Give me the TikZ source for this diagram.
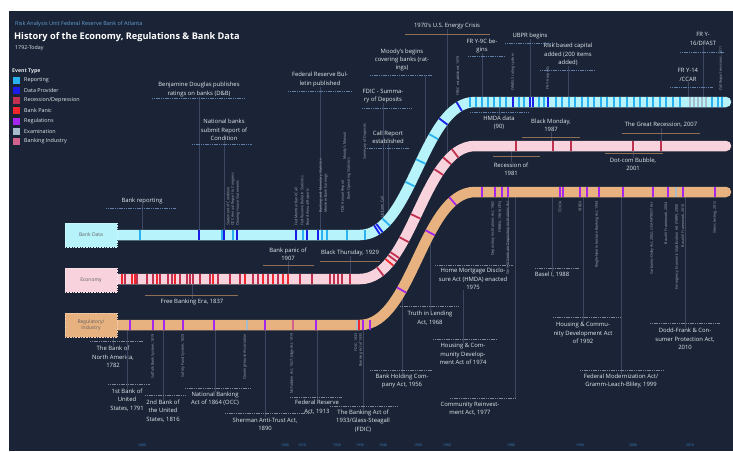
\documentclass[tikz,border=0pt]{standalone}
\usepackage{fontspec}
\setmainfont{Open Sans}
\usetikzlibrary{decorations.markings}

\definecolor{bg}{HTML}{1A2436}
\definecolor{txt}{HTML}{E4E8EE}
\definecolor{dimtxt}{HTML}{A3AEBE}
\definecolor{bandcyan}{HTML}{B6F3FA}
\definecolor{bandpink}{HTML}{F8D2DD}
\definecolor{bandtan}{HTML}{E7B27F}
\definecolor{rpt}{HTML}{2AB2F0}
\definecolor{dat}{HTML}{1C1CE8}
\definecolor{rec}{HTML}{C0304F}
\definecolor{bpn}{HTML}{F0282D}
\definecolor{reg}{HTML}{A524EE}
\definecolor{exm}{HTML}{A6BCCB}
\definecolor{bki}{HTML}{D2638E}
\definecolor{dataln}{HTML}{5F7FA8}
\definecolor{econln}{HTML}{8E6F55}
\definecolor{regln}{HTML}{7D8696}
\definecolor{leadln}{HTML}{3B4760}
\definecolor{axis}{HTML}{3D86C8}

\tikzset{
  lbl/.style={text=txt, font=\fontsize{5.9}{8.4}\selectfont, align=center, inner sep=0pt},
  vlbl/.style={text=dimtxt, font=\fontsize{3.6}{4.8}\selectfont, rotate=90, inner sep=0pt, align=left},
  datarule/.style={draw=dataln, line width=0.8pt, dash pattern=on 1.2pt off 0.6pt},
  econrule/.style={draw=econln, line width=0.8pt},
  regrule/.style={draw=regln, line width=0.8pt, dash pattern=on 1.2pt off 0.6pt},
  lead/.style={draw=leadln, line width=0.4pt},
  band/.style={draw=#1, line width=10.5pt, line cap=round},
  bandbox/.style={fill=#1, draw=#1!60!white, densely dotted, line width=0.6pt,
    minimum width=52pt, minimum height=24pt, inner sep=1pt,
    text=black!62, font=\fontsize{5}{6.2}\selectfont, align=center},
  legtxt/.style={anchor=west, text=txt, font=\fontsize{5.4}{6}\selectfont, inner sep=0pt},
  yr/.style={text=axis, font=\fontsize{3.4}{4}\selectfont, inner sep=0pt},
}
\newcommand\tk[1]{\fill[#1] (-0.9pt,-5.25pt) rectangle (0.9pt,5.25pt);}

\begin{document}
\begin{tikzpicture}[x=1pt,y=-1pt]
\useasboundingbox (0,0) rectangle (733,451);
\fill[white] (0,0) rectangle (733,451);
\fill[bg] (9,11) rectangle (733,451);

% band rows
\coordinate (cyanlo) at (0,235);
\coordinate (cyanhi) at (0,102);
\coordinate (pinklo) at (0,279);
\coordinate (pinkhi) at (0,146);
\coordinate (tanlo) at (0,325);
\coordinate (tanhi) at (0,192);

% title and legend
\node[anchor=west, text=axis!80!white, font=\fontsize{5.5}{6}\selectfont, inner sep=0pt] (src) at (15,24) {Risk Analysis Unit Federal Reserve Bank of Atlanta};
\node[anchor=west, text=white, font=\bfseries\fontsize{9.2}{10}\selectfont, inner sep=0pt] (title) at (14,37) {History of the Economy, Regulations \& Bank Data};
\node[anchor=west, text=txt, font=\fontsize{5.3}{6}\selectfont, inner sep=0pt] (sub) at (15,48) {1792-Today};
\node[legtxt, font=\bfseries\fontsize{5.2}{6}\selectfont] (evt) at (12,71) {Event Type};
\foreach \col/\lab [count=\i] in {rpt/Reporting, dat/Data Provider, rec/Recession\slash Depression,
    bpn/Bank Panic, reg/Regulations, exm/Examination, bki/Banking Industry} {
  \fill[\col] (13,70+\i*10.2-3.5) rectangle ++(7,7);
  \node[legtxt] at (24,70+\i*10.2) {\lab};
}

% labels above and below the bands
\node[lbl] (rptg) at (142,201) {Bank reporting};
\node[lbl] (dnb) at (199,89.5) {Benjamine Douglas publishes\\ratings on banks (D\&B)};
\node[lbl] (cond) at (224,130) {National banks\\submit Report of\\Condition};
\node[lbl] (frb) at (320,79.5) {Federal Reserve Bul-\\letin published};
\node[lbl] (moody) at (402,60) {Moody's begins\\covering banks (rat-\\ings)};
\node[lbl] (sod) at (383,96) {FDIC - Summa-\\ry of Deposits};
\node[lbl] (call) at (388,137) {Call Report\\established};
\node[lbl] (frynine) at (482,46) {FR Y-9C be-\\gins};
\node[lbl] (ubpr) at (530,36) {UBPR begins};
\node[lbl] (rbc) at (568,54.5) {Risk based capital\\added (200 items\\added)};
\node[lbl] (dfast) at (703,39) {FR Y-\\16/DFAST};
\node[lbl] (ccar) at (688,75) {FR Y-14\\/CCAR};
\node[lbl] (hmda) at (499,122.5) {HMDA data\\(90)};

\node[lbl] (energy) at (447,26) {1970's U.S. Energy Crisis};
\node[lbl] (bmon) at (551,125.5) {Black Monday,\\1987};
\node[lbl] (grec) at (661,125) {The Great Recession, 2007};
\node[lbl] (recone) at (511,169) {Recession of\\1981};
\node[lbl] (dotcom) at (633,164.5) {Dot-com Bubble,\\2001};
\node[lbl] (panic) at (288,254) {Bank panic of\\1907};
\node[lbl] (bthu) at (350,253) {Black Thursday, 1929};
\node[lbl] (free) at (192,302) {Free Banking Era, 1837};

\node[lbl] (bna) at (113,357) {The Bank of\\North America,\\1782};
\node[lbl] (bkone) at (127,400) {1st Bank of\\United\\States, 1791};
\node[lbl] (bktwo) at (163,411) {2nd Bank of\\the United\\States, 1816};
\node[lbl] (nba) at (215,399) {National Banking\\Act of 1864 (OCC)};
\node[lbl] (sher) at (265,424) {Sherman Anti-Trust Act,\\1890};
\node[lbl] (fra) at (317,407) {Federal Reserve\\Act, 1913};
\node[lbl] (glass) at (363,421) {The Banking Act of\\1933/Glass-Steagall\\(FDIC)};
\node[lbl] (bhc) at (402,381) {Bank Holding Com-\\pany Act, 1956};
\node[lbl] (tila) at (430,318) {Truth in Lending\\Act, 1968};
\node[lbl] (hcdsf) at (463,354) {Housing \& Com-\\munity Develop-\\ment Act of 1974};
\node[lbl] (cra) at (470,409) {Community Reinvest-\\ment Act, 1977};
\node[lbl] (hmdact) at (473,279) {Home Mortgage Disclo-\\sure Act (HMDA) enacted\\1975};
\node[lbl] (basel) at (552,275) {Basel I, 1988};
\node[lbl] (hcdnt) at (583,333) {Housing \& Commu-\\nity Development Act\\of 1992};
\node[lbl] (glb) at (621,381) {Federal Modernization Act/\\Gramm-Leach-Bliley, 1999};
\node[lbl] (dfa) at (685,339) {Dodd-Frank \& Con-\\sumer Protection Act,\\2010};

% leaders (under the bands)
\foreach \n in {rptg,dnb,cond,frb} \draw[lead] (\n.south) -- (\n.south |- cyanlo);
\foreach \n in {frynine,ubpr,rbc,dfast,ccar} \draw[lead] (\n.south) -- (\n.south |- cyanhi);
\draw[lead] (hmda.north) -- (hmda.north |- cyanhi);
\draw[lead] (425,75) -- (425,152);
\draw[lead] (sod.south) -- (sod.south |- 0,221);
\draw[lead] (call.south) -- (call.south |- 0,215);
\draw[lead] (energy.south) -- (energy.south |- 0,166);
\foreach \n in {bmon,grec} \draw[lead] (\n.south) -- (\n.south |- pinkhi);
\foreach \n in {recone,dotcom} \draw[lead] (\n.north) -- (\n.north |- pinkhi);
\foreach \n in {panic,bthu} \draw[lead] (\n.south) -- (\n.south |- pinklo);
\draw[lead] (free.north) -- (free.north |- pinklo);
\foreach \n in {bna,bkone,bktwo,nba,sher,fra,glass} \draw[lead] (\n.north) -- (\n.north |- tanlo);
\foreach \n in {basel,hcdnt,glb,dfa} \draw[lead] (\n.north) -- (\n.north |- tanhi);
\draw[lead] (508,265) -- (508,192);
\draw[lead] (515,398) -- (515,192);
\draw[lead] (hcdsf.north) -- (hcdsf.north |- hmdact.south);
\draw[lead] (bhc.north) -- (bhc.north |- 0,290);
\draw[lead] (tila.north) -- (tila.north |- 0,238);

% rules
\draw[datarule] (106,208) -- (176,208);
\draw[datarule] (152,98) -- (245,98);
\draw[datarule] (192,144) -- (252,144);
\draw[datarule] (288,91) -- (352,91);
\draw[datarule] (370,75) -- (433,75);
\draw[datarule] (362,108) -- (412,108);
\draw[datarule] (365,148) -- (410,148);
\draw[datarule] (468,56) -- (505,56);
\draw[datarule] (505,43) -- (555,43);
\draw[datarule] (540,70) -- (595,70);
\draw[datarule] (680,52) -- (725,52);
\draw[datarule] (670,87) -- (713,87);
\draw[datarule] (470,112) -- (528,112);
\draw[econrule] (405,34) -- (490,34);
\draw[econrule] (522,137) -- (580,137);
\draw[econrule] (622,133) -- (700,133);
\draw[econrule] (493,156) -- (540,156);
\draw[econrule] (605,153) -- (663,153);
\draw[econrule] (263,265) -- (314,265);
\draw[econrule] (320,261) -- (380,261);
\draw[econrule] (145,295) -- (238,295);
\draw[regrule] (90,341) -- (143,341);
\draw[regrule] (108,384) -- (150,384);
\draw[regrule] (145,395) -- (185,395);
\draw[regrule] (185,388) -- (250,388);
\draw[regrule] (225,413) -- (310,413);
\draw[regrule] (290,397) -- (342,397);
\draw[regrule] (330,406) -- (397,406);
\draw[regrule] (370,370) -- (432,370);
\draw[regrule] (400,306) -- (458,306);
\draw[regrule] (433,339) -- (497,339);
\draw[regrule] (450,398) -- (516,398);
\draw[regrule] (435,265) -- (513,265);
\draw[regrule] (535,268) -- (580,268);
\draw[regrule] (553,317) -- (620,317);
\draw[regrule] (580,370) -- (663,370);
\draw[regrule] (650,323) -- (720,323);

% bands
\draw[band=bandcyan, postaction={decorate, decoration={markings,
    mark=at position 261pt with {\tk{dat}},
    mark=at position 264pt with {\tk{dat}},
    mark=at position 273pt with {\tk{rpt}},
    mark=at position 318pt with {\tk{rpt}},
    mark=at position 343pt with {\tk{rpt}},
    mark=at position 371pt with {\tk{rpt}},
    mark=at position 389pt with {\tk{dat}},
    mark=at position 411pt with {\tk{dat}}}}]
  (117,235) -- (360,235) .. controls (412,235) and (423,102) .. (475,102) -- (726,102);
\draw[band=bandpink, postaction={decorate, decoration={markings,
    mark=at position 265pt with {\tk{rec}},
    mark=at position 278pt with {\tk{bpn}},
    mark=at position 283pt with {\tk{rec}},
    mark=at position 287pt with {\tk{rec}},
    mark=at position 305pt with {\tk{rec}},
    mark=at position 331pt with {\tk{rec}},
    mark=at position 381pt with {\tk{rec}},
    mark=at position 395pt with {\tk{rec}},
    mark=at position 406pt with {\tk{rec}}}}]
  (117,279) -- (360,279) .. controls (412,279) and (423,146) .. (475,146) -- (726,146);
\draw[band=bandtan, postaction={decorate, decoration={markings,
    mark=at position 300pt with {\tk{reg}},
    mark=at position 364pt with {\tk{reg}},
    mark=at position 403pt with {\tk{reg}}}}]
  (117,325) -- (360,325) .. controls (412,325) and (423,192) .. (475,192) -- (726,192);

% event ticks on the flat parts
\foreach \x/\col in {140/rpt,199/dat,222/rpt,224/dat,233/rpt,237/dat,296/dat,303/rpt,307/dat,
    318/dat,322/rpt,327/rpt,347/rpt,365/rpt}
  \fill[\col] (\x-0.9,229.75) rectangle (\x+0.9,240.25);
\foreach \x/\col in {470/rpt,476/rpt,482/rpt,488/rpt,494/rpt,500/rpt,506/rpt,513/dat,519/rpt,524/rpt,
    530/dat,533/dat,539/rpt,544/rpt,548/dat,556/rpt,562/rpt,569/rpt,575/rpt,582/rpt,588/rpt,594/rpt,
    601/rpt,607/rpt,614/rpt,620/rpt,627/rpt,634/rpt,640/rpt,647/rpt,653/rpt,660/rpt,666/rpt,673/rpt,
    680/rpt,690/exm,694/exm,698/exm,702/exm,706/exm,712/rpt,718/rpt,722/rpt}
  \fill[\col] (\x-0.9,96.75) rectangle (\x+0.9,107.25);
\foreach \x/\col in {122/bpn,125/rec,132/bpn,135/bpn,137/rec,147/rec,153/rec,157/bpn,160/rec,168/rec,
    172/rec,175/bpn,180/rec,187/rec,190/rec,193/rec,200/rec,210/rec,213/bpn,218/rec,230/rec,240/rec,
    245/bpn,253/rec,258/rec,263/bpn,268/rec,273/bpn,278/rec,283/bpn,288/bpn,300/rec,312/rec,330/rec,
    334/rec,338/rec,342/rec,350/rec}
  \fill[\col] (\x-0.9,273.75) rectangle (\x+0.9,284.25);
\foreach \x in {516,553,571,633,661}
  \fill[rec] (\x-0.9,140.75) rectangle (\x+0.9,151.25);
\foreach \x/\col in {130/reg,153/reg,164/reg,183/reg,214/reg,247/exm,265/reg,293/bki,316/reg,
    357/exm,359/bpn,363/reg,370/reg}
  \fill[\col] (\x-0.9,319.75) rectangle (\x+0.9,330.25);
\foreach \x/\col in {482/reg,495/reg,502/reg,508/reg,560/reg,563/reg,580/reg,587/reg,599/reg,623/reg,
    653/reg,668/reg,676/exm,683/reg,715/reg}
  \fill[\col] (\x-0.9,186.75) rectangle (\x+0.9,197.25);

% band boxes
\node[bandbox=bandcyan] (bankdata) at (91,235) {Bank Data};
\node[bandbox=bandpink] (economy) at (91,280) {Economy};
\node[bandbox=bandtan] (industry) at (91,325) {Regulatory/\\Industry};

% small upright texts next to the bands
\node[vlbl, anchor=west] (sc) at (228,226) {Statement of Condition};
\node[vlbl, anchor=west] (occ) at (233,226) {OCC Annual Report to Congress};
\node[vlbl, anchor=west] (chs) at (238,226) {Clearing House Statements};
\node[vlbl, anchor=west] (fmb) at (296,226) {Fed Member Bank Call};
\node[vlbl, anchor=west] (fbs) at (302,226) {Fed Reserve Bulletin Statistics};
\node[vlbl, anchor=west] (bar) at (308,226) {Board Annual Reports};
\node[vlbl, anchor=west] (bms) at (321,213) {Banking and Monetary Statistics};
\node[vlbl, anchor=west] (mbe) at (326,213) {Member Bank Earnings};
\node[vlbl, anchor=west] (far) at (343,213) {FDIC Annual Report};
\node[vlbl, anchor=west] (bos) at (349,200) {Bank Operating Statistics};
\node[vlbl, anchor=west] (ucr) at (382,218) {Uniform Call};
\node[vlbl, anchor=west] (mm) at (345,160) {Moody's Manual};
\node[vlbl, anchor=west] (sdp) at (365,160) {Summary of Deposits};
\node[vlbl, anchor=west] (ffiec) at (458,96) {FFIEC established, 1979};
\node[vlbl, anchor=west] (camels) at (513,91) {CAMELS rating system};
\node[vlbl, anchor=west] (frysix) at (548,90) {FR Y-6 reports};
\node[vlbl, anchor=west] (crr) at (721,91) {Call Report revisions, 2011};

\node[vlbl, anchor=east] (suff) at (153,334) {Suffolk Bank System, 1819};
\node[vlbl, anchor=east] (safe) at (183,334) {Safety Fund System, 1829};
\node[vlbl, anchor=east] (chouse) at (245,334) {Clearing House Association};
\node[vlbl, anchor=east] (mcf) at (292,333) {McFadden Act, 1927; Edge Act, 1919};
\node[vlbl, anchor=east] (fdic) at (356,333) {FDIC, 1933};
\node[vlbl, anchor=east] (bthf) at (361,333) {Banking Act of 1935};
\node[vlbl, anchor=east] (dia) at (493,201) {Depository Institutions Act, 1982};
\node[vlbl, anchor=east] (firrea) at (500,201) {FIRREA, 1989 (OTS)};
\node[vlbl, anchor=east] (garn) at (508,201) {Garn-St Germain Depository Institutions Act};
\node[vlbl, anchor=east] (fdicia) at (560,201) {FDICIA};
\node[vlbl, anchor=east] (ibbea) at (580,201) {IBBEA};
\node[vlbl, anchor=east] (riegle) at (597,201) {Riegle-Neal Interstate Banking Act, 1994};
\node[vlbl, anchor=east] (sox) at (652,202) {Sarbanes-Oxley Act, 2002; USA PATRIOT Act};
\node[vlbl, anchor=east] (baseltwo) at (666,202) {Basel II Framework, 2004};
\node[vlbl, anchor=east] (eesa) at (677,204) {Emergency Economic Stabilization Act (TARP), 2008};
\node[vlbl, anchor=east] (baselthree) at (683,204) {Basel III Framework, 2010};
\node[vlbl, anchor=east] (stress) at (715,201) {Stress testing, 2012};

% years along the bottom
\foreach \x/\y in {142/1800,285/1900,302/1910,337/1920,360/1930,383/1940,418/1950,
    447/1960,511/1980,580/1990,633/2000,690/2010}
  \node[yr] at (\x,445) {\y};

\end{tikzpicture}
\end{document}
